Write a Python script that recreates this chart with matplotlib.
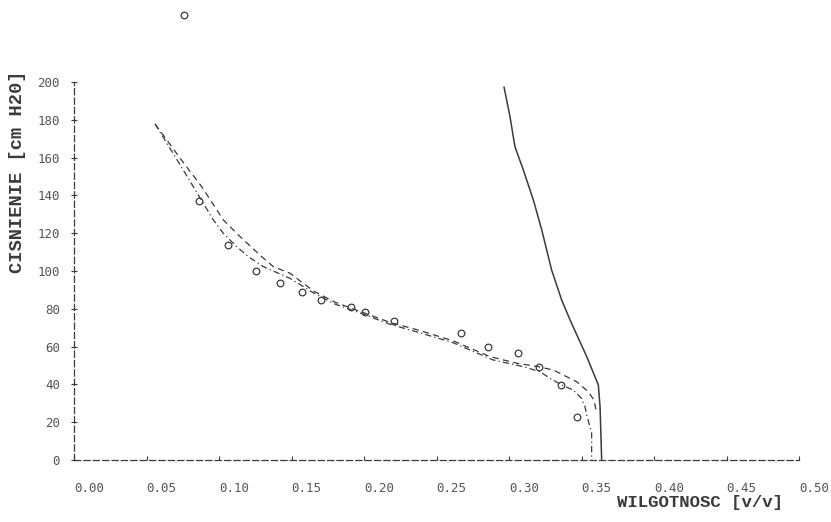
import numpy as np
import matplotlib
matplotlib.use("Agg")
import matplotlib.pyplot as plt

# measured points (circles)
obs_x = [0.0759, 0.0862, 0.106, 0.1253, 0.1423, 0.157, 0.1705, 0.1909, 0.2009,
         0.2209, 0.2666, 0.2857, 0.3064, 0.3209, 0.3359, 0.3467]
obs_y = [235.4, 137.2, 113.8, 100.2, 93.8, 88.7, 84.7, 81.0, 78.3,
         73.4, 67.1, 59.8, 56.8, 49.4, 39.8, 22.9]

# dashed model curve
dash_x = [0.0559, 0.075, 0.0881, 0.103, 0.1145, 0.1294, 0.1375, 0.149, 0.165, 0.18,
          0.1995, 0.2179, 0.2386, 0.2616, 0.2869, 0.3053, 0.3202, 0.3306, 0.3467,
          0.3547, 0.3586, 0.36]
dash_y = [177.8, 157.8, 144.6, 127.0, 118.2, 107.6, 102.3, 98.8, 89.5, 83.5,
          78.0, 72.8, 68.5, 63.0, 54.7, 51.2, 49.4, 47.6, 41.4,
          36.1, 31.7, 26.5]

# dash-dot model curve
dd_x = [0.0559, 0.0719, 0.0823, 0.0961, 0.103, 0.1122, 0.1202, 0.1306, 0.149, 0.165,
        0.18, 0.1995, 0.2179, 0.2386, 0.2616, 0.2892, 0.3099, 0.3214, 0.3283, 0.3363,
        0.3443, 0.3501, 0.3524, 0.3536, 0.357, 0.357]
dd_y = [177.8, 157.8, 144.6, 127.0, 119.9, 112.9, 107.6, 102.3, 96.1, 88.5,
        82.5, 77.2, 71.8, 67.3, 62.0, 52.9, 49.4, 46.7, 43.2, 39.7,
        37.0, 32.6, 28.2, 23.8, 14.3, 0.0]

# solid curve
sol_x = [0.2966, 0.3007, 0.3041, 0.3099, 0.3168, 0.3226, 0.3294, 0.3363, 0.3421,
         0.3536, 0.3616, 0.3628, 0.3639]
sol_y = [197.2, 181.6, 165.8, 153.4, 137.6, 121.7, 100.5, 84.7, 74.1,
         54.7, 39.7, 28.2, 0.0]

xticks = [0.0, 0.05, 0.10, 0.15, 0.20, 0.25, 0.30, 0.35, 0.40, 0.45, 0.50]
yticks = [0, 20, 40, 60, 80, 100, 120, 140, 160, 180, 200]

ink = '#3a3a3a'
txt = '#555555'

fig = plt.figure(figsize=(8.31, 5.22), dpi=100)
ax = fig.add_axes([74/831, 62/522, 725/831, 378/522])

ax.plot(sol_x, sol_y, '-', color=ink, lw=1.1)
ax.plot(dash_x, dash_y, color=ink, lw=0.9, linestyle=(0, (5, 3.5)))
ax.plot(dd_x, dd_y, color=ink, lw=0.9, linestyle=(0, (5, 2.5, 1, 2.5)))
ax.plot(obs_x, obs_y, 'o', mfc='none', mec=ink, ms=4.8, mew=0.9, clip_on=False)

ax.set_xlim(0, 0.5)
ax.set_ylim(0, 200)

for s in ['top', 'right']:
    ax.spines[s].set_visible(False)
for s in ['left', 'bottom']:
    ax.spines[s].set_linestyle((0, (5, 2.5)))
    ax.spines[s].set_linewidth(0.9)
    ax.spines[s].set_color(ink)

ax.set_xticks(xticks)
ax.set_xticklabels(['%.2f' % v for v in xticks], ha='left')
ax.set_yticks(yticks)
ax.set_yticklabels([str(v) for v in yticks])
ax.tick_params(axis='x', direction='in', length=3, width=0.8, color=ink, pad=16,
               labelsize=9, labelcolor=txt)
ax.tick_params(axis='y', direction='inout', length=4, width=0.8, color=ink, pad=8,
               labelsize=9, labelcolor=txt)
for lab in ax.get_xticklabels() + ax.get_yticklabels():
    lab.set_family('DejaVu Sans Mono')
for lab in ax.get_xticklabels():
    lab.set_x(lab.get_position()[0])

fig.text(700/831, 1 - 502/522, 'WILGOTNOSC [v/v]', family='Liberation Mono',
         fontweight='bold', fontsize=12.5, color=ink, ha='center', va='center')
fig.text(18/831, 1 - 172/522, 'CISNIENIE [cm H20]', family='Liberation Mono',
         fontweight='bold', fontsize=13.5, color=ink, ha='center', va='center',
         rotation=90)

fig.savefig('out.png', dpi=100, facecolor='white')
